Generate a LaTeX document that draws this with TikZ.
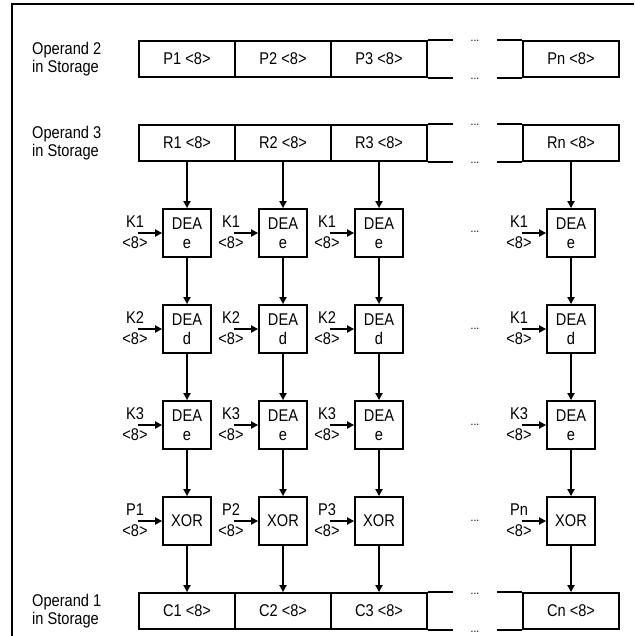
\documentclass[tikz,border=0pt]{standalone}
\usepackage{fontspec}
\setmainfont{Liberation Sans}[FakeStretch=0.86]
\usetikzlibrary{arrows.meta}
\begin{document}
\begin{tikzpicture}[x=1pt,y=-1pt,
  font=\fontsize{17}{18}\selectfont,
  ln/.style={line width=1.8pt},
  cell/.style={draw,ln,minimum width=96pt,minimum height=36pt,inner sep=0pt},
  blk/.style={draw,ln,minimum width=48pt,minimum height=48pt,inner sep=0pt,align=center,font=\fontsize{17}{19}\selectfont},
  arr/.style={ln,-{Triangle[length=7pt,width=7pt]}},
  lbl/.style={align=left,anchor=west,inner sep=0pt,font=\fontsize{17}{18}\selectfont},
  key/.style={inner sep=0pt,font=\fontsize{17}{18}\selectfont},
  dots/.style={inner sep=0pt,anchor=base,font=\fontsize{12}{12}\selectfont},
  ]
\useasboundingbox (0,0) rectangle (634,636);
\draw[ln] (12,636) -- (12,4) -- (634,4);

% storage rows
\foreach \r/\y/\lab in {P/59/{Operand 2},R/143/{Operand 3},C/611/{Operand 1}} {
  \node[lbl] (lab\r) at (32,\y) {\lab\\in Storage};
  \node[cell] (\r1) at (187,\y) {\r1 <8>};
  \node[cell] (\r2) at (283,\y) {\r2 <8>};
  \node[cell] (\r3) at (379,\y) {\r3 <8>};
  \node[cell] (\r4) at (571,\y) {\r n <8>};
  \draw[ln] (\r3.north east) -- ++(25,0);
  \draw[ln] (\r3.south east) -- ++(25,0);
  \draw[ln] (\r4.north west) -- ++(-25,0);
  \draw[ln] (\r4.south west) -- ++(-25,0);
  \node[dots] (dt\r) at (475,\y-17) {...};
  \node[dots] (db\r) at (475,\y+21) {...};
}

% blocks
\foreach \c/\x in {1/187,2/283,3/379,4/571} {
  \node[blk] (a\c) at (\x,233) {DEA\\e};
  \node[blk] (b\c) at (\x,329) {DEA\\d};
  \node[blk] (c\c) at (\x,425) {DEA\\e};
  \node[blk] (d\c) at (\x,521) {XOR};
  \draw[arr] (R\c.south) -- (a\c.north);
  \draw[arr] (a\c.south) -- (b\c.north);
  \draw[arr] (b\c.south) -- (c\c.north);
  \draw[arr] (c\c.south) -- (d\c.north);
  \draw[arr] (d\c.south) -- (C\c.north);
  \foreach \rw/\yy in {a/233,b/329,c/425,d/521} {
    \coordinate (s\rw\c) at (\x-49,\yy);
    \draw[arr] (s\rw\c) -- (\rw\c.west);
    \node[key] (e\rw\c) at (\x-52,\yy+10) {<8>};
  }
}
% key labels
\foreach \c/\x/\ka/\kb/\kc/\kd in {1/187/K1/K2/K3/P1,2/283/K1/K2/K3/P2,3/379/K1/K2/K3/P3,4/571/K1/K1/K3/Pn} {
  \node[key] (ka\c) at (\x-52,222) {\ka};
  \node[key] (kb\c) at (\x-52,318) {\kb};
  \node[key] (kc\c) at (\x-52,414) {\kc};
  \node[key] (kd\c) at (\x-52,510) {\kd};
}
% ellipses between columns
\foreach \yy/\n in {233/a,329/b,425/c,521/d} {
  \node[dots] (m\n) at (475,\yy) {...};
}
\end{tikzpicture}
\end{document}
